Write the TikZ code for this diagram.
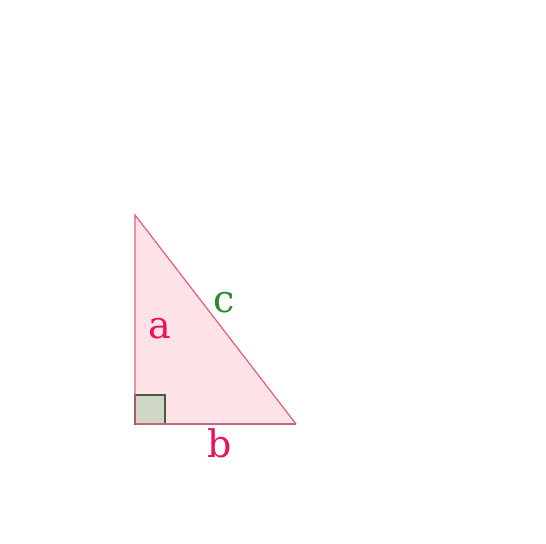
\documentclass[tikz,border=0pt]{standalone}
\usepackage{fontspec}
\setmainfont{DejaVu Serif}
\usepackage{tikz}

\definecolor{trifill}{RGB}{253,226,232}
\definecolor{sidered}{RGB}{228,92,120}
\definecolor{lblred}{RGB}{230,20,90}
\definecolor{lblgreen}{RGB}{40,140,40}
\definecolor{sqfill}{RGB}{208,214,196}
\definecolor{sqline}{RGB}{70,90,70}

\begin{document}
\begin{tikzpicture}[
  x=0.5pt, y=0.5pt,
  font=\fontsize{19}{22}\selectfont,
  side/.style={draw=sidered, line width=0.6pt},
  lbl/.style={inner sep=0pt}
]
\useasboundingbox (0,0) rectangle (546,544);

% ── Vertices ──
\coordinate (top) at (135,329);
\coordinate (rt) at (135,120);
\coordinate (right) at (296,120);

% ── Triangle ──
\fill[trifill] (top) -- (rt) -- (right) -- cycle;

% right-angle mark
\draw[fill=sqfill, draw=sqline, line width=0.6pt] (rt) rectangle ++(30,29);

\draw[side] (rt) -- (top) -- (right);
\draw[draw=sidered!60!gray, line width=0.6pt] (rt) -- (right);

% ── Labels ──
\node[lbl, text=lblred] (a) at (160,215) {a};
\node[lbl, text=lblgreen] (c) at (224,241) {c};
\node[lbl, text=lblred] (b) at (220,101) {b};

\end{tikzpicture}
\end{document}
